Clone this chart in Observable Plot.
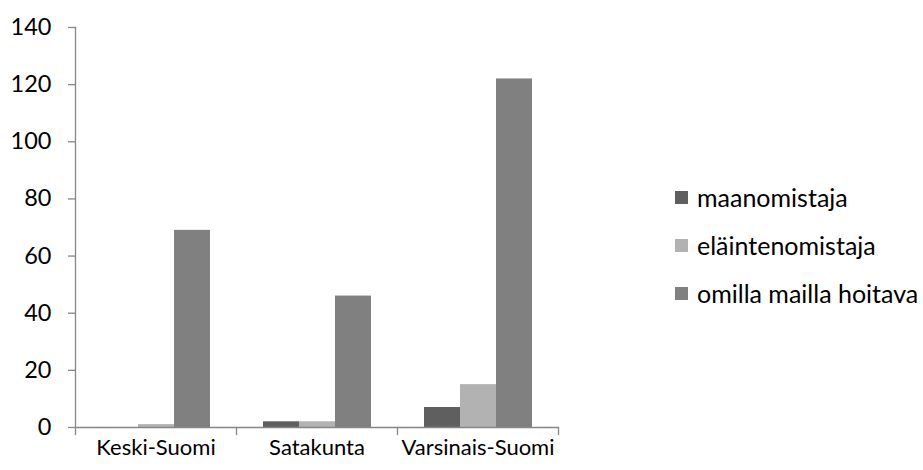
<!DOCTYPE html>
<html>
<head>
<meta charset="utf-8">
<script src="https://cdn.jsdelivr.net/npm/d3@7"></script>
<script src="https://cdn.jsdelivr.net/npm/@observablehq/plot@0.6"></script>
<style>
  html, body { margin: 0; padding: 0; background: #fff; overflow: hidden; }
  #wrap { position: relative; width: 923px; height: 470px; font-family: Lato, "Open Sans", sans-serif; }
  #legend { position: absolute; left: 675px; top: 173px; font-size: 25px; color: #000; }
  #legend .row { display: flex; align-items: center; height: 48px; white-space: nowrap; }
  #legend .sw { width: 13px; height: 13px; margin-right: 9px; flex: none; }
</style>
</head>
<body>
<div id="wrap"><div id="legend"></div></div>
<script>
const categories = ["Keski-Suomi", "Satakunta", "Varsinais-Suomi"];
const series = ["maanomistaja", "eläintenomistaja", "omilla mailla hoitava"];
const maanomistaja = [0, 2, 7];
const elaintenomistaja = [1, 2, 15];
const omillaMaillaHoitava = [69, 46, 122];
const yTicks = [0, 20, 40, 60, 80, 100, 120, 140];
const colors = ["#5f5f5f", "#b2b2b2", "#808080"];
const axisColor = "#868686";

const valuesBySeries = [maanomistaja, elaintenomistaja, omillaMaillaHoitava];
const data = categories.flatMap((c, i) =>
  series.map((s, j) => ({category: c, series: s, value: valuesBySeries[j][i]}))
);

const W = 923, H = 470, mT = 27, mB = 43, mL = 75, mR = 365;
const plotH = H - mT - mB;

const chart = Plot.plot({
  width: W, height: H,
  marginLeft: mL, marginRight: mR, marginTop: mT, marginBottom: mB,
  style: {fontFamily: "Lato, 'Open Sans', sans-serif", fontSize: "22px", color: "#000", background: "#fff", overflow: "visible"},
  fx: {domain: categories, padding: 0, label: null, axis: null},
  x: {domain: series, paddingInner: 0, paddingOuter: 0.736, axis: null},
  y: {domain: [0, 140], ticks: yTicks, axis: null},
  color: {domain: series, range: colors},
  marks: [
    Plot.barY(data, {fx: "category", x: "series", y: "value", fill: "series"}),
    Plot.ruleY([0], {stroke: axisColor, strokeWidth: 1.3}),
    Plot.frame({anchor: "left", facetAnchor: "left", stroke: axisColor, strokeWidth: 1.3}),
    Plot.frame({anchor: "left", facetAnchor: "left", stroke: axisColor, strokeWidth: 1.3, insetTop: plotH, insetBottom: -7}),
    Plot.frame({anchor: "right", stroke: axisColor, strokeWidth: 1.3, insetTop: plotH, insetBottom: -7}),
    Plot.axisY({ticks: yTicks, tickSize: 7, tickPadding: 17, stroke: axisColor, strokeWidth: 1.3, label: null, fill: "#000", fontSize: 23.5}),
    Plot.axisFx({anchor: "bottom", tickSize: 0, tickPadding: 12, label: null, fill: "#000", fontSize: 22})
  ]
});

document.getElementById("wrap").prepend(chart);

const legend = document.getElementById("legend");
series.forEach((s, j) => {
  const row = document.createElement("div");
  row.className = "row";
  const sw = document.createElement("div");
  sw.className = "sw";
  sw.style.background = colors[j];
  const t = document.createElement("span");
  t.textContent = s;
  row.appendChild(sw);
  row.appendChild(t);
  legend.appendChild(row);
});
</script>
</body>
</html>
